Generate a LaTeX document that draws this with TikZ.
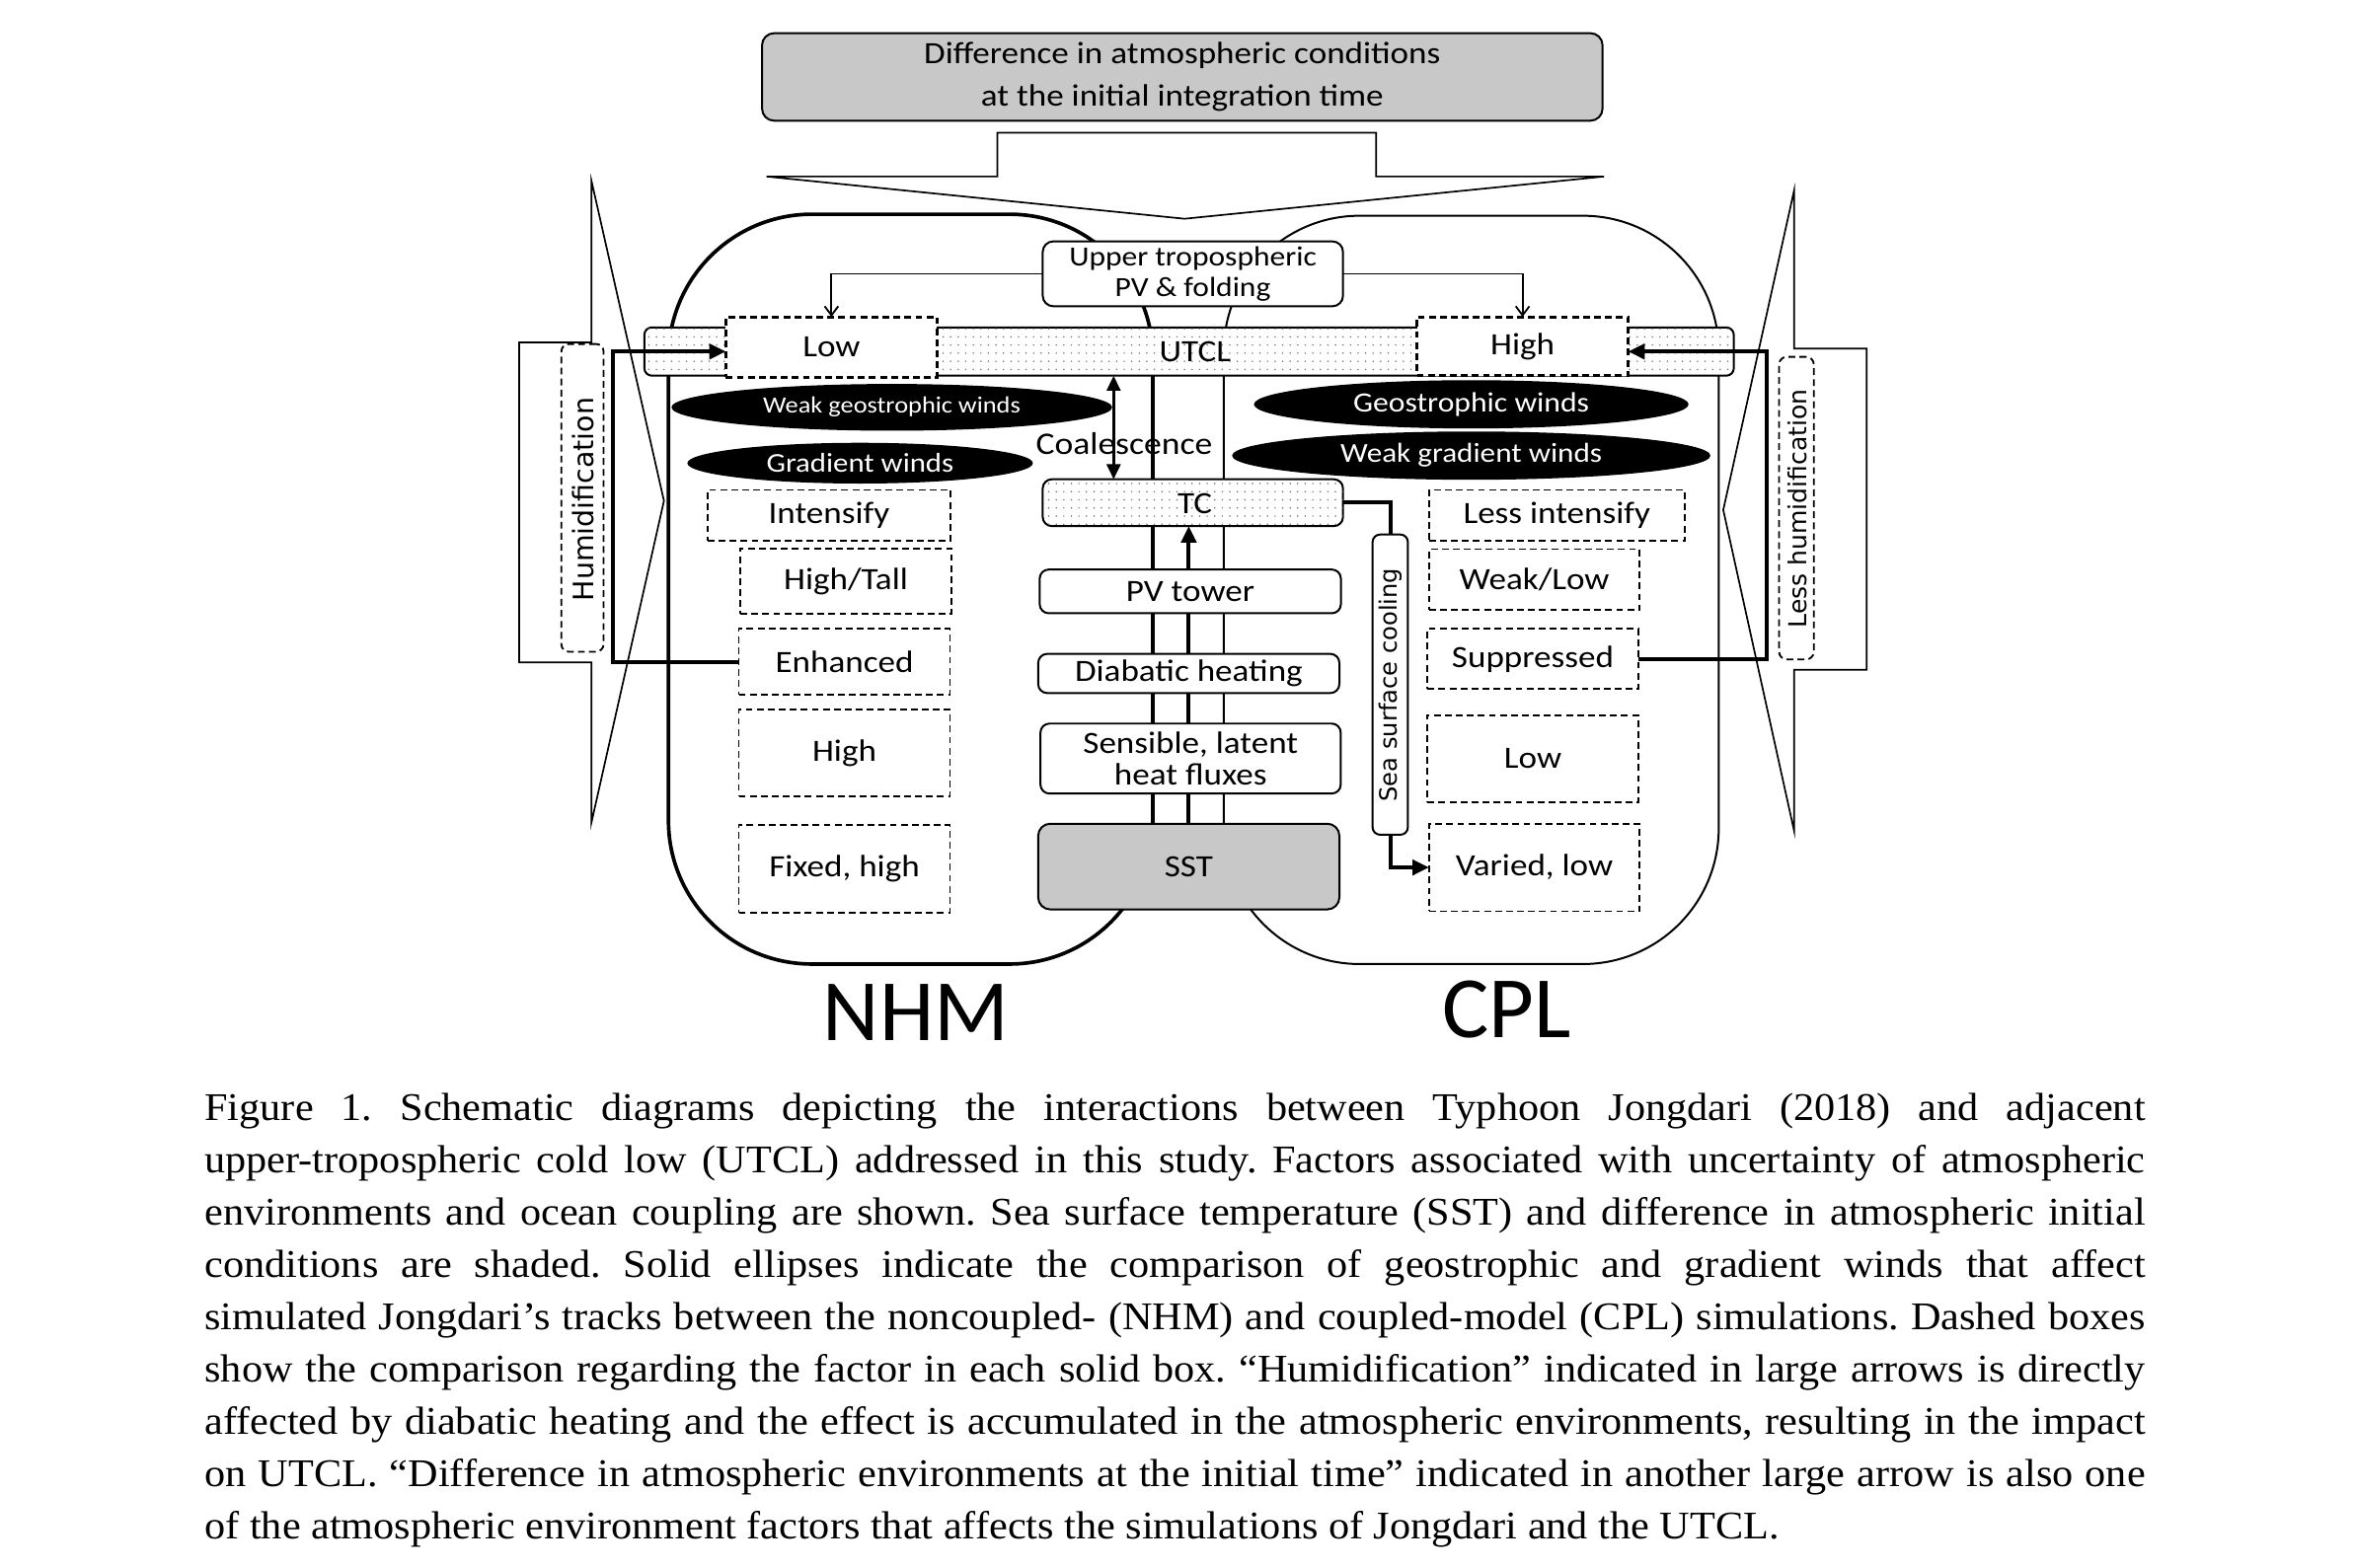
\documentclass[tikz,border=0pt]{standalone}
\usepackage{fontspec}
\setmainfont{Liberation Serif}
\newfontfamily\df[FakeStretch=1.12]{Carlito}
\newfontfamily\dfn{Carlito}
\newfontfamily\dv{DejaVu Sans}
\newfontfamily\capf[FakeStretch=1.063]{Liberation Serif}
\usetikzlibrary{arrows.meta,shapes.geometric,patterns,calc}
\definecolor{shade}{HTML}{C8C8C8}
\pgfdeclarepatternformonly{sdots}{\pgfqpoint{-1pt}{-1pt}}{\pgfqpoint{1pt}{1pt}}{\pgfqpoint{5pt}{5.4pt}}{\pgfpathcircle{\pgfqpoint{0pt}{0pt}}{0.55pt}\pgfusepath{fill}}
\pgfdeclarelayer{bg}
\pgfsetlayers{bg,main}
\begin{document}
\begin{tikzpicture}[x=1pt,y=-1pt,
  base/.style={inner sep=0pt, outer sep=0pt, font=\df\fontsize{20.5}{22}\selectfont, align=center},
  sz/.style 2 args={minimum width=#1pt, minimum height=#2pt},
  solidbox/.style={base, draw, line width=1.3pt, rounded corners=6pt, fill=white},
  dashbox/.style={base, draw, line width=1.2pt, dash pattern=on 4.5pt off 2.8pt, fill=white},
  dashthick/.style={dashbox, line width=2pt},
  dotbox/.style={solidbox, postaction={pattern=sdots, pattern color=black!55}},
  blob/.style={ellipse, fill=black, inner sep=0pt, outer sep=0pt, text=white},
  bigarrow/.style={line width=1.1pt, line join=miter},
  thickarr/.style={line width=2.6pt, -{Triangle[length=11pt,width=10pt]}},
  thickline/.style={line width=2.6pt},
  thinarr/.style={line width=1.2pt, -{Straight Barb[length=6pt,width=9pt]}},
  dblarr/.style={line width=2pt, {Triangle[length=10pt,width=9pt]}-{Triangle[length=10pt,width=9pt]}}
]
\useasboundingbox (0,0) rectangle (1560,1038.7);

% large outline arrows
\draw[bigarrow] (661,88) -- (912,88) -- (912,117) -- (1063,117) -- (785,145) -- (508,117) -- (661,117) -- cycle;
\draw[bigarrow] (344,227) -- (392,227) -- (392,120) -- (440,332) -- (392,545) -- (392,439) -- (344,439) -- cycle;
\draw[bigarrow] (1237,231) -- (1189,231) -- (1189,126) -- (1142,338) -- (1189,551) -- (1189,444) -- (1237,444) -- cycle;

% model regions
\draw[line width=2.4pt, rounded corners=95pt] (443,142) rectangle (764,639);
\draw[line width=1.3pt, rounded corners=90pt] (811,143) rectangle (1139,639);

% top shaded box
\node[solidbox, fill=shade, rounded corners=8pt, sz={557}{58}, font=\df\fontsize{20.5}{28}\selectfont] (init) at (783.5,51)
  {Difference in atmospheric conditions\\at the initial integration time};

% UTCL bar
\node[dotbox, rounded corners=5pt, sz={722}{32}] (UTCL) at (788,233) {};
\node[base] (utcltxt) at (792,233) {UTCL};
\node[dashthick, sz={140}{40}] (Low) at (551,230) {Low};
\node[dashthick, sz={140}{39}] (High) at (1009,229.5) {High};

% upper tropospheric box
\node[solidbox, rounded corners=7pt, sz={199}{43}, font=\df\fontsize{18.4}{20}\selectfont] (UT) at (790.5,181.5)
  {Upper tropospheric\\PV \& folding};
\draw[thinarr] (UT.west) -| (Low.north);
\draw[thinarr] (UT.east) -| (High.north);

% ellipses
\node[blob, sz={292}{31}, font=\df\fontsize{15.4}{16}\selectfont] (wgeo) at (591,270) {Weak geostrophic winds};
\node[blob, sz={229}{27}, font=\df\fontsize{18}{19}\selectfont] (grad) at (570,307) {Gradient winds};
\node[blob, sz={288}{32}, font=\df\fontsize{18.5}{19}\selectfont] (geo) at (975,268) {Geostrophic winds};
\node[blob, sz={317}{32}, font=\df\fontsize{18.2}{19}\selectfont] (wgrad) at (975,302) {Weak gradient winds};

% central column
\node[dotbox, sz={199}{31}] (TC) at (790.5,333.2) {};
\node[base] (tctxt) at (791.8,333.6) {TC};
\node[solidbox, sz={199.6}{29}] (PV) at (788.8,392) {PV tower};
\node[solidbox, sz={199.6}{26}] (DH) at (787.8,446.4) {Diabatic heating};
\node[solidbox, sz={199}{46.4}, font=\df\fontsize{20.5}{20.5}\selectfont] (SLH) at (789,502.8) {Sensible, latent\\heat fluxes};
\node[solidbox, fill=shade, rounded corners=8pt, sz={199.6}{56.8}] (SST) at (787.8,574.4) {SST};
\begin{pgfonlayer}{bg}
\draw[thickarr] (SST.north) -- (SST.north |- TC.south);
\end{pgfonlayer}

% coalescence
\coordinate (cx) at (738,0);
\draw[dblarr] (cx |- UTCL.south) -- (cx |- TC.north);
\node[base, font=\df\fontsize{20.8}{22}\selectfont] (coal) at (745,294) {Coalescence};

% NHM dashed boxes
\node[dashbox, sz={161}{34}] (Int) at (549.4,341.7) {Intensify};
\node[dashbox, sz={140}{43.4}] (HT) at (560.6,385.3) {High/Tall};
\node[dashbox, sz={140}{43.6}] (Enh) at (559.6,438.6) {Enhanced};
\node[dashbox, sz={140}{57.6}] (HiN) at (559.6,499.2) {High};
\node[dashbox, sz={140}{58.2}] (Fix) at (559.6,575.9) {Fixed, high};

% CPL dashed boxes
\node[dashbox, sz={169.4}{34}] (LInt) at (1031.7,341.7) {Less intensify};
\node[dashbox, sz={139.6}{40.4}] (WL) at (1016.8,384.2) {Weak/Low};
\node[dashbox, sz={139.6}{40}] (Sup) at (1015.8,436.8) {Suppressed};
\node[dashbox, sz={139.6}{58}] (LowC) at (1015.8,503) {Low};
\node[dashbox, sz={139.6}{58}] (Var) at (1016.8,575) {Varied, low};

% humidification boxes
\node[dashbox, rounded corners=5pt, sz={28}{204}] (hum) at (386,330) {};
\node[inner sep=0pt, rotate=90, font=\dv\fontsize{18.6}{20}\selectfont] (humtxt) at (386.5,331) {Humidification};
\node[dashbox, rounded corners=5pt, sz={23}{200.5}] (lhum) at (1190.5,336.8) {};
\node[inner sep=0pt, rotate=90, font=\dv\fontsize{16.4}{18}\selectfont] (lhumtxt) at (1191,337) {Less humidification};

% humidification connectors
\coordinate (hL) at (406,233);
\coordinate (hR) at (1171,233);
\draw[thickarr] (Enh.west) -| (hL) -- (hL -| Low.west);
\draw[thickarr] (Sup.east) -| (hR) -- (hR -| High.east);

% sea surface cooling
\node[solidbox, rounded corners=5pt, sz={23.4}{199}] (SSC) at (921.3,453.8) {};
\node[inner sep=0pt, rotate=90, font=\dv\fontsize{15.8}{17}\selectfont] (ssctxt) at (921.5,454) {Sea surface cooling};
\draw[thickline] (TC.east) -| (SSC.north);
\draw[thickarr] (SSC.south) |- (Var.west);

% model labels
\node[inner sep=0pt, font=\dfn\fontsize{58}{58}\selectfont] (nhm) at (607,671) {NHM};
\node[inner sep=0pt, font=\dfn\fontsize{58}{58}\selectfont] (cpl) at (998.5,669) {CPL};

% caption
\node[inner sep=0pt, anchor=base west, font=\capf\fontsize{26}{34.7}\selectfont] (cap) at (135.5,742.5) {\frenchspacing\vtop{\baselineskip=34.7pt\lineskiplimit=-100pt
\hbox to 1286pt{Figure 1. Schematic diagrams depicting the interactions between Typhoon Jongdari (2018) and adjacent}
\hbox to 1286pt{upper-tropospheric cold low (UTCL) addressed in this study. Factors associated with uncertainty of atmospheric}
\hbox to 1286pt{environments and ocean coupling are shown. Sea surface temperature (SST) and difference in atmospheric initial}
\hbox to 1286pt{conditions are shaded. Solid ellipses indicate the comparison of geostrophic and gradient winds that affect}
\hbox to 1286pt{simulated Jongdari’s tracks between the noncoupled- (NHM) and coupled-model (CPL) simulations. Dashed boxes}
\hbox to 1286pt{show the comparison regarding the factor in each solid box. “Humidification” indicated in large arrows is directly}
\hbox to 1286pt{affected by diabatic heating and the effect is accumulated in the atmospheric environments, resulting in the impact}
\hbox to 1286pt{on UTCL. “Difference in atmospheric environments at the initial time” indicated in another large arrow is also one}
\hbox{of the atmospheric environment factors that affects the simulations of Jongdari and the UTCL.}}};
\end{tikzpicture}
\end{document}
